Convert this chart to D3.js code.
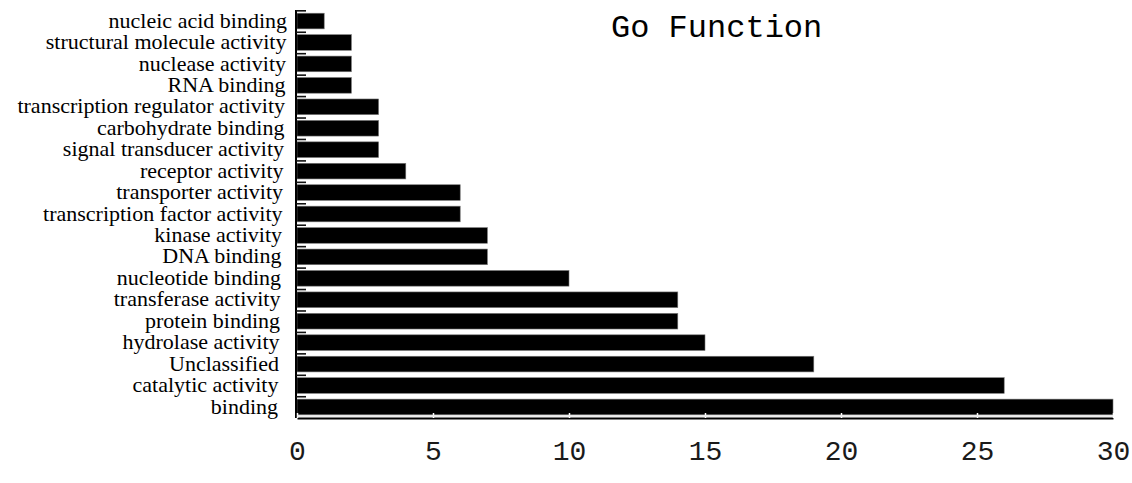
<!DOCTYPE html>
<html>
<head>
<meta charset="utf-8">
<script src="https://cdn.jsdelivr.net/npm/d3@7"></script>
<style>
  body { margin: 0; background: #fff; }
  svg { display: block; }
</style>
</head>
<body>
<div id="chart"></div>
<script>
// data, top to bottom as in the picture
const categories = [
    'nucleic acid binding', 'structural molecule activity', 'nuclease activity',
    'RNA binding', 'transcription regulator activity', 'carbohydrate binding',
    'signal transducer activity', 'receptor activity', 'transporter activity',
    'transcription factor activity', 'kinase activity', 'DNA binding',
    'nucleotide binding', 'transferase activity', 'protein binding',
    'hydrolase activity', 'Unclassified', 'catalytic activity', 'binding'
];
const counts = [1, 2, 2, 2, 3, 3, 3, 4, 6, 6, 7, 7, 10, 14, 14, 15, 19, 26, 30];
const xTicks = [0, 5, 10, 15, 20, 25, 30];
const chartTitle = 'Go Function';

const width = 1132, height = 483;
const margin = { top: 10, right: 19, bottom: 65, left: 297 };

const svg = d3.select('#chart')
    .append('svg')
    .attr('width', width)
    .attr('height', height);

const x = d3.scaleLinear()
    .domain([0, 30])
    .range([margin.left, width - margin.right]);

const y = d3.scaleBand()
    .domain(categories)
    .range([margin.top, height - margin.bottom])
    .paddingInner(0.27)
    .paddingOuter(0.15);

// bars
svg.append('g')
    .selectAll('rect')
    .data(categories)
    .join('rect')
    .attr('x', x(0))
    .attr('y', d => y(d))
    .attr('width', (d, i) => x(counts[i]) - x(0))
    .attr('height', y.bandwidth())
    .attr('fill', '#000')
    .attr('stroke', '#777')
    .attr('stroke-width', 0.6);

// y axis: line plus short inward ticks at band boundaries
const yBottom = height - margin.bottom;
svg.append('line')
    .attr('x1', x(0) - 1).attr('x2', x(0) - 1)
    .attr('y1', margin.top).attr('y2', yBottom)
    .attr('stroke', '#000')
    .attr('stroke-width', 2);

const step = y.step();
svg.append('g')
    .selectAll('line')
    .data(categories)
    .join('line')
    .attr('x1', x(0) - 1)
    .attr('x2', x(0) + 9)
    .attr('y1', d => y(d) - step * 0.135 + 0.5)
    .attr('y2', d => y(d) - step * 0.135 + 0.5)
    .attr('stroke', '#111')
    .attr('stroke-width', 1.6);

// category labels
svg.append('g')
    .selectAll('text')
    .data(categories)
    .join('text')
    .attr('x', (d, i) => 287 - i * 0.5)
    .attr('y', d => y(d) + y.bandwidth() / 2)
    .attr('dy', '0.3em')
    .attr('text-anchor', 'end')
    .style('font-family', '"Liberation Serif", "Times New Roman", serif')
    .style('font-size', '22px')
    .style('fill', '#000')
    .text(d => d);

// x axis
const xAxis = d3.axisBottom(x)
    .tickValues(xTicks)
    .tickSizeInner(-5)
    .tickSizeOuter(0)
    .tickPadding(22);

const gx = svg.append('g')
    .attr('transform', `translate(0, ${yBottom})`)
    .call(xAxis);

gx.select('.domain')
    .attr('stroke', '#000')
    .attr('stroke-width', 2);
gx.selectAll('.tick line')
    .attr('stroke', '#fff')
    .attr('stroke-width', 1.5);
gx.selectAll('.tick text')
    .style('font-family', '"Liberation Mono", "DejaVu Sans Mono", monospace')
    .style('font-size', '28px')
    .style('fill', '#1a1a1a');

// thin light line between the last bar and the axis
svg.append('line')
    .attr('x1', x(0)).attr('x2', x(30))
    .attr('y1', yBottom - 2).attr('y2', yBottom - 2)
    .attr('stroke', '#ddd')
    .attr('stroke-width', 1);

// title
svg.append('text')
    .attr('x', 611)
    .attr('y', 37)
    .style('font-family', '"Liberation Mono", "DejaVu Sans Mono", monospace')
    .style('font-size', '32px')
    .style('fill', '#000')
    .text(chartTitle);
</script>
</body>
</html>
